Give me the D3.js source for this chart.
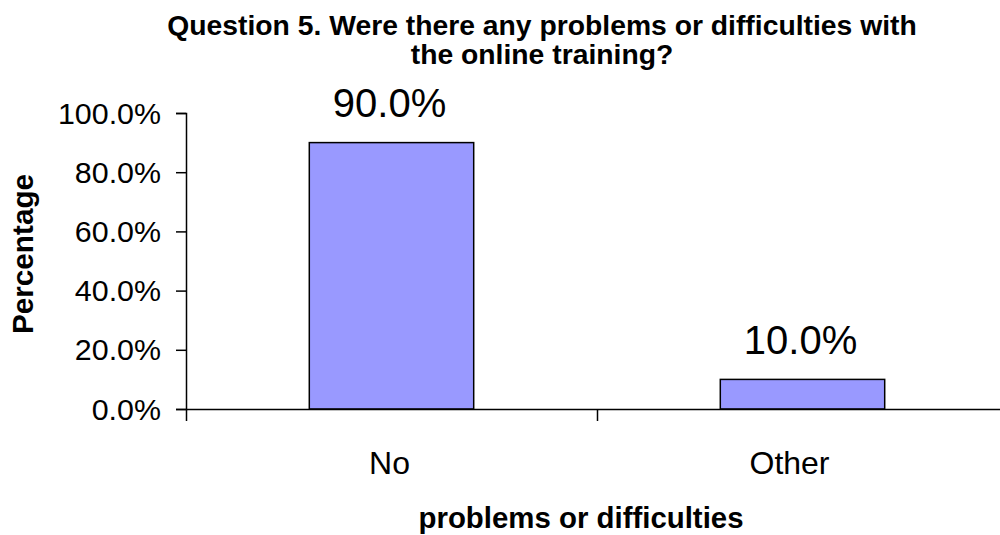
<!DOCTYPE html>
<html>
<head>
<meta charset="utf-8">
<script src="https://cdn.jsdelivr.net/npm/d3@7"></script>
<style>
  html, body { margin: 0; padding: 0; background: #fff; }
  svg { display: block; font-family: "Liberation Sans", Arial, sans-serif; }
</style>
</head>
<body>
<svg id="chart" width="1000" height="535"></svg>
<script>
const categories = ["No", "Other"];
const values = [90.0, 10.0];
const yTicks = [0, 20, 40, 60, 80, 100];
const titleLines = ["Question 5. Were there any problems or difficulties with", "the online training?"];
const xTitle = "problems or difficulties";
const yTitle = "Percentage";

const svg = d3.select("#chart");

const plotLeft = 186, plotRight = 1008, plotTop = 113, plotBottom = 409;

const x = d3.scaleBand().domain(categories).range([plotLeft, plotRight]).paddingInner(0.6).paddingOuter(0.3);
const xb = d3.scaleLinear().domain([0, categories.length]).range([plotLeft, plotRight]);
const y = d3.scaleLinear().domain([0, 100]).range([plotBottom, plotTop]);

function stext(g, tx, ty, str, size, weight, anchor, rot) {
  return g.append("text")
    .attr("transform", `translate(${tx},${ty})` + (rot ? ` rotate(${rot})` : ""))
    .attr("text-anchor", anchor || "middle")
    .attr("font-size", size)
    .attr("font-weight", weight || "normal")
    .attr("fill", "#000")
    .text(str);
}

// Title
titleLines.forEach((t, i) => stext(svg, 542, 34.5 + i * 29.5, t, 28.3, "bold"));

// Bars
svg.append("g").selectAll("rect").data(categories).join("rect")
  .attr("x", d => x(d))
  .attr("width", x.bandwidth())
  .attr("y", (d, i) => y(values[i]))
  .attr("height", (d, i) => y(0) - y(values[i]))
  .attr("fill", "#9999ff")
  .attr("stroke", "#000")
  .attr("stroke-width", 1.5);

// Data labels
categories.forEach((c, i) => {
  stext(svg, x(c) + x.bandwidth() / 2 - 2, y(values[i]) - 25.5, values[i].toFixed(1) + "%", 40);
});

// Y axis
const yAxis = svg.append("g").attr("transform", `translate(${plotLeft},0)`)
  .call(d3.axisLeft(y).tickValues(yTicks).tickSize(10).tickPadding(15).tickFormat(d => d.toFixed(1) + "%"));
yAxis.selectAll("text").remove();
yAxis.select(".domain").attr("stroke", "#000").attr("stroke-width", 1.5);
yAxis.selectAll(".tick line").attr("stroke", "#000").attr("stroke-width", 1.5);
yTicks.forEach(t => stext(svg, plotLeft - 25, y(t) + 10.5, t.toFixed(1) + "%", 30.4, "normal", "end"));

// X axis (boundary ticks)
const xAxis = svg.append("g").attr("transform", `translate(0,${plotBottom})`)
  .call(d3.axisBottom(xb).tickValues(d3.range(categories.length + 1)).tickSize(12).tickSizeOuter(0).tickFormat(""));
xAxis.select(".domain").attr("stroke", "#000").attr("stroke-width", 1.5);
xAxis.selectAll(".tick line").attr("stroke", "#000").attr("stroke-width", 1.5);

// Category labels
categories.forEach((c, i) => stext(svg, x(c) + x.bandwidth() / 2 - (i === 0 ? 2 : 13), 473.5, c, 32));

// Axis titles
stext(svg, 581, 528, xTitle, 29.4, "bold");
stext(svg, 33, 254, yTitle, 29.7, "bold", "middle", -90);
</script>
</body>
</html>
